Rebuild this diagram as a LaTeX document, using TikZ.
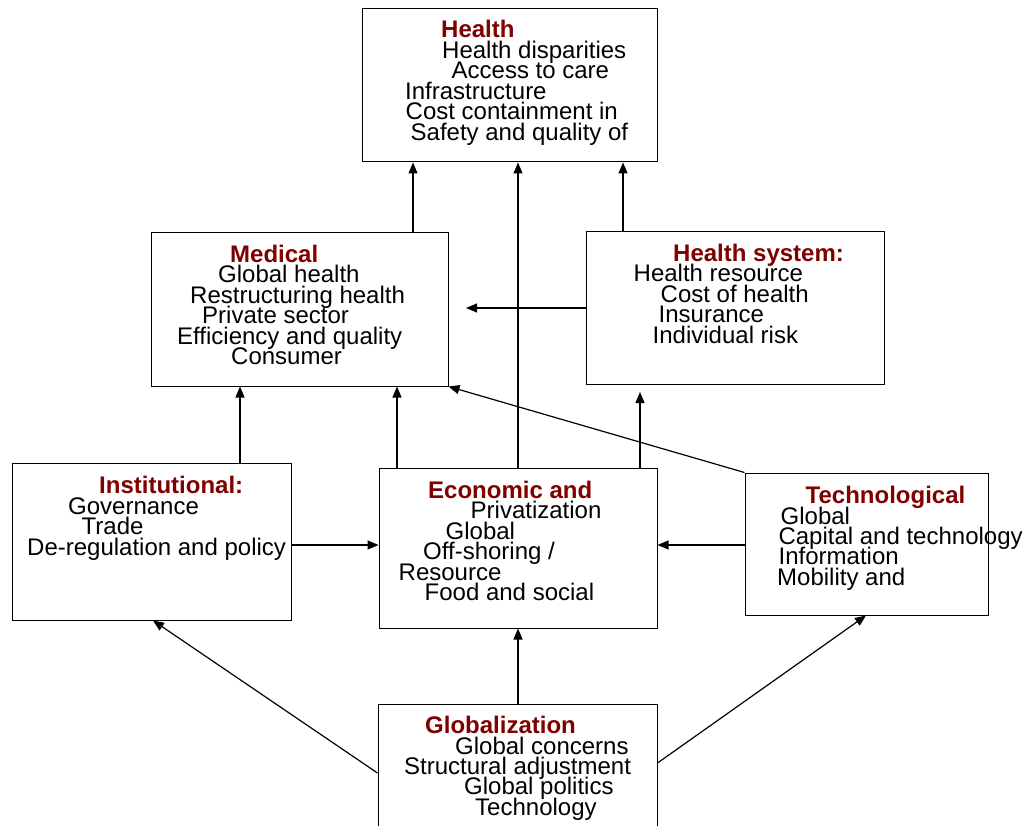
\documentclass[tikz,border=0pt]{standalone}
\usepackage{fontspec}
\setmainfont{Liberation Sans}
\usetikzlibrary{arrows.meta}
\definecolor{titlered}{RGB}{128,0,0}
\tikzset{
  box/.style={draw=black, line width=1pt, fill=white, inner sep=0pt, rectangle},
  txt/.style={anchor=base west, inner sep=0pt, text height=15.5pt, text depth=4pt, font=\fontsize{24pt}{24pt}\selectfont},
  ttl/.style={txt, font=\fontsize{24pt}{24pt}\selectfont\bfseries, text=titlered},
  arr/.style={line width=1.2pt, -{Triangle[length=11pt,width=9pt]}}
}
\begin{document}
\begin{tikzpicture}[x=1pt,y=-1pt]
\clip (0,0) rectangle (1025,826);
\fill[white] (0,0) rectangle (1025,826);
% boxes
\node[box, minimum width=295pt, minimum height=153pt] (health) at (509.5,85.5) {};
\node[box, minimum width=297pt, minimum height=153pt] (medical) at (299.5,309.5) {};
\node[box, minimum width=298pt, minimum height=152pt] (hsys) at (735,308) {};
\node[box, minimum width=279pt, minimum height=157pt] (inst) at (151.5,541.5) {};
\node[box, minimum width=278pt, minimum height=160pt] (econ) at (518,548) {};
\node[box, minimum width=243pt, minimum height=142pt] (tech) at (866.5,544) {};
\node[box, minimum width=279pt, minimum height=138pt] (glob) at (517.5,773) {};
% helper coordinates
\coordinate (x152) at (153,0);
\coordinate (x240) at (240,0);
\coordinate (x397) at (397,0);
\coordinate (x413) at (413,0);
\coordinate (x518) at (518,0);
\coordinate (x623) at (623,0);
\coordinate (x640) at (640,0);
\coordinate (x866) at (866,0);
\coordinate (y545) at (0,545);
\coordinate (y763) at (0,763);
\coordinate (medfree) at (466,308);
\coordinate (hsysfree) at (640,392);
% Health
\node[ttl] (ht) at (441,38) {Health};
\node[txt] (h1) at (442,58.5) {Health disparities};
\node[txt] (h2) at (451.5,79) {Access to care};
\node[txt] (h3) at (405,99.5) {Infrastructure};
\node[txt] (h4) at (405.5,120) {Cost containment in};
\node[txt] (h5) at (410.5,140.5) {Safety and quality of};
% Medical
\node[ttl] (mt) at (230,263) {Medical};
\node[txt] (m1) at (218,283) {Global health};
\node[txt] (m2) at (190,303.5) {Restructuring health};
\node[txt] (m3) at (202,323.5) {Private sector};
\node[txt] (m4) at (177,344) {Efficiency and quality};
\node[txt] (m5) at (231,364) {Consumer};
% Health system
\node[ttl] (st) at (673,261.5) {Health system:};
\node[txt] (s1) at (633.5,281.5) {Health resource};
\node[txt] (s2) at (660.5,302) {Cost of health};
\node[txt] (s3) at (658.5,322.5) {Insurance};
\node[txt] (s4) at (652.5,343) {Individual risk};
% Institutional
\node[ttl] (it) at (99,493) {Institutional:};
\node[txt] (i1) at (68,514) {Governance};
\node[txt] (i2) at (81.5,534.5) {Trade};
\node[txt] (i3) at (27,555) {De-regulation and policy};
% Economic
\node[ttl] (et) at (428,498.5) {Economic and};
\node[txt] (e1) at (470.5,518.5) {Privatization};
\node[txt] (e2) at (445.5,539) {Global};
\node[txt] (e3) at (423,559.5) {Off-shoring /};
\node[txt] (e4) at (398.5,580) {Resource};
\node[txt] (e5) at (424.5,600) {Food and social};
% Technological
\node[ttl] (tt) at (805.5,503.5) {Technological};
\node[txt] (t1) at (780.5,524) {Global};
\node[txt] (t2) at (778.3,544.5) {Capital and technology};
\node[txt] (t3) at (778.5,564.5) {Information};
\node[txt] (t4) at (777,585) {Mobility and};
% Globalization
\node[ttl] (gt) at (425,733.5) {Globalization};
\node[txt] (g1) at (455,754) {Global concerns};
\node[txt] (g2) at (404,774.5) {Structural adjustment};
\node[txt] (g3) at (464,794.5) {Global politics};
\node[txt] (g4) at (475,815) {Technology};
% connectors
\draw[arr] (medical.north -| x413) -- (health.south -| x413);
\draw[arr] (econ.north -| x518) -- (health.south -| x518);
\draw[arr] (hsys.north -| x623) -- (health.south -| x623);
\draw[arr] (hsys.west) -- (medfree);
\draw[arr] (inst.north -| x240) -- (medical.south -| x240);
\draw[arr] (econ.north -| x397) -- (medical.south -| x397);
\draw[arr] (tech.north west) -- (medical.south east);
\draw[arr] (econ.north -| x640) -- (hsysfree);
\draw[arr] (inst.east |- y545) -- (econ.west |- y545);
\draw[arr] (tech.west |- y545) -- (econ.east |- y545);
\draw[arr] (glob.north -| x518) -- (econ.south -| x518);
\draw[arr] (glob.west) -- (inst.south -| x152);
\draw[arr] (glob.east |- y763) -- (tech.south -| x866);
\end{tikzpicture}
\end{document}
